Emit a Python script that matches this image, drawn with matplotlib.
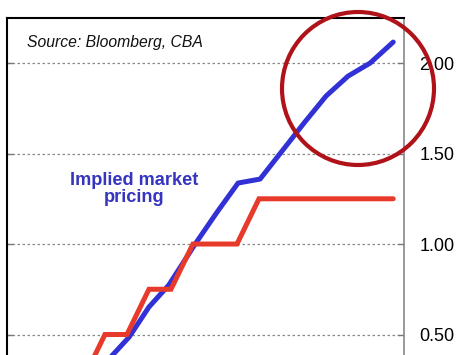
import matplotlib.pyplot as plt
from matplotlib.patches import Ellipse

# Months from start of horizon (x), cash rate in % (y)
cash_months = [-1, 0, 1, 2, 3, 4, 6, 7, 13.1]
cash_rate = [0.25, 0.50, 0.50, 0.75, 0.75, 1.00, 1.00, 1.25, 1.25]

market_months = [-0.6, 0.35, 1.1, 2.0, 2.9, 4.1, 5.1, 6.05, 7.05, 8.05, 9.05, 10.05, 11.05, 12.05, 13.1]
market_rate = [0.265, 0.387, 0.486, 0.652, 0.773, 1.0, 1.177, 1.337, 1.359,
               1.514, 1.669, 1.818, 1.928, 2.0, 2.116]

y_ticks = [0.50, 1.00, 1.50, 2.00]
y_labels = ["0.50", "1.00", "1.50", "2.00"]

plt.rcParams["font.family"] = ["Liberation Sans", "DejaVu Sans"]

fig = plt.figure(figsize=(4.74, 3.55), dpi=100)
ax = fig.add_axes([7 / 474, -70 / 355, 397 / 474, 407 / 355])

ax.plot(market_months, market_rate, color="#3131d6", lw=3.6,
        solid_capstyle="round", solid_joinstyle="round", zorder=3)
ax.plot(cash_months, cash_rate, color="#e83a2b", lw=3.6,
        solid_capstyle="round", solid_joinstyle="miter", zorder=4)

ax.set_xlim(-4.45, 13.59)
ax.set_ylim(0, 2.249)

ax.set_yticks(y_ticks)
ax.set_yticklabels(y_labels, fontsize=13)
ax.yaxis.tick_right()
ax.tick_params(axis="y", which="both", direction="in", length=4, width=1,
               color="#777777", pad=11, left=True, right=True)
ax.set_xticks([])
ax.grid(axis="y", color="#888888", linestyle=(0, (2, 2)), linewidth=0.9)

for side in ["left", "top"]:
    ax.spines[side].set_color("black")
    ax.spines[side].set_linewidth(1.5)
ax.spines["right"].set_color("#888888")
ax.spines["right"].set_linewidth(1.2)
ax.spines["bottom"].set_visible(False)

fig.text(27 / 474, 1 - 42 / 355, "Source: Bloomberg, CBA", fontsize=11.3,
         style="italic", va="center", ha="left", color="#111111")
fig.text(134 / 474, 1 - 189 / 355, "Implied market\npricing", fontsize=13.1,
         fontweight="bold", color="#3535c0", ha="center", va="center",
         linespacing=1.05)

circle = Ellipse((358 / 474, 1 - 88.5 / 355), width=152 / 474, height=153 / 355,
                 transform=fig.transFigure, fill=False, edgecolor="#b0121a",
                 lw=3.0, zorder=10)
fig.patches.append(circle)

fig.savefig("out.png", dpi=100)
